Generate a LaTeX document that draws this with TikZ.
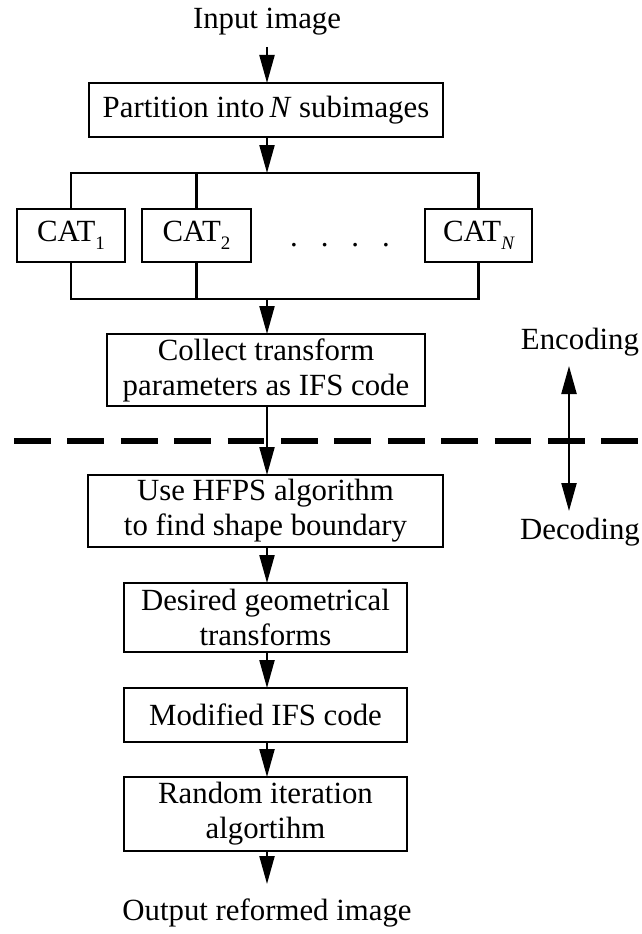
\documentclass[tikz,border=0pt]{standalone}
\usepackage{fontspec}
\setmainfont{Liberation Serif}
\usetikzlibrary{arrows.meta}
\newcommand{\subsc}[1]{\raisebox{-0.55ex}{\fontsize{19}{19}\selectfont #1}}
\begin{document}
\begin{tikzpicture}[x=1pt,y=-1pt,
  every node/.style={font=\fontsize{30.8}{35}\selectfont, inner sep=0pt, outer sep=0pt},
  box/.style={draw, line width=2.2pt, rectangle, align=center},
  conn/.style={line width=2.2pt},
  arr/.style={line width=2.2pt, -{Triangle[length=28pt,width=15pt]}},
  darr/.style={line width=2.2pt, {Triangle[length=28pt,width=15pt]}-{Triangle[length=28pt,width=15pt]}},
  sep/.style={line width=5.3pt, dash pattern=on 36.7pt off 16.7pt}]
\useasboundingbox (0,0) rectangle (641,934);

\node (in) at (267,22) {Input image};
\coordinate (inA) at (267,47);
\node[box, minimum width=354pt, minimum height=54pt] (part) at (266,110) {Partition into\,\textit{N} subimages};

\coordinate (bt) at (267,173);
\coordinate (bb) at (267,299);
\node[box, minimum width=108pt, minimum height=53pt] (cat1) at (71,235.5) {CAT\subsc{1}};
\node[box, minimum width=109pt, minimum height=53pt] (cat2) at (196.5,235.5) {CAT\subsc{2}};
\node[box, minimum width=107pt, minimum height=53pt] (catN) at (478.5,235.5) {CAT\subsc{\itshape N}};
\node[anchor=base] (dots) at (340,246) {.\hspace{23pt}.\hspace{23pt}.\hspace{23pt}.};

\node[box, minimum width=318pt, minimum height=72pt] (coll) at (266,370) {Collect transform\\parameters as IFS code};
\node[box, minimum width=355pt, minimum height=72pt] (hfps) at (265.5,511) {Use HFPS algorithm\\to find shape boundary};
\node[box, minimum width=283pt, minimum height=69pt] (des) at (265.5,617.5) {Desired geometrical\\transforms};
\node[box, minimum width=283pt, minimum height=54pt] (mod) at (265.5,715) {Modified IFS code};
\node[box, minimum width=283pt, minimum height=74pt] (rnd) at (265.5,814) {Random iteration\\algortihm};
\coordinate (outA) at (267,884);
\node (out) at (267,913) {Output reformed image};

\node (enc) at (580,342) {Encoding};
\node (dec) at (580,532) {Decoding};
\coordinate (dA) at (569,366);
\coordinate (dB) at (569,511);

\coordinate (sepL) at (14,441);
\coordinate (sepR) at (660,441);

% arrows
\draw[arr] (inA) -- (inA |- part.north);
\draw[arr] (part.south -| bt) -- (bt);
\draw[conn] (cat1.north) -- (cat1.north |- bt) -- (catN.north |- bt) -- (catN.north);
\draw[conn] (cat2.north) -- (cat2.north |- bt);
\draw[conn] (cat1.south) -- (cat1.south |- bb) -- (catN.south |- bb) -- (catN.south);
\draw[conn] (cat2.south) -- (cat2.south |- bb);
\draw[arr] (bb) -- (bb |- coll.north);
\draw[sep] (sepL) -- (sepR);
\draw[arr] (coll.south -| bt) -- (hfps.north -| bt);
\draw[arr] (hfps.south -| bt) -- (des.north -| bt);
\draw[arr] (des.south -| bt) -- (mod.north -| bt);
\draw[arr] (mod.south -| bt) -- (rnd.north -| bt);
\draw[arr] (rnd.south -| bt) -- (outA);
\draw[darr] (dA) -- (dB);
\end{tikzpicture}
\end{document}
